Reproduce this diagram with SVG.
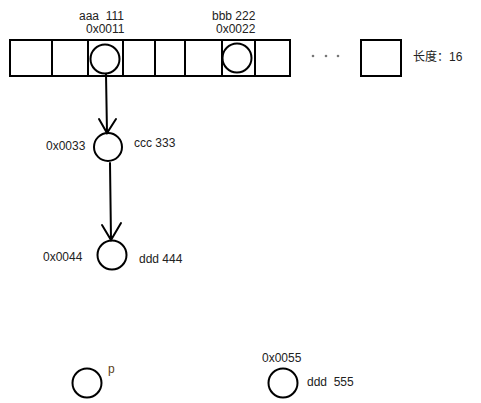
<svg xmlns="http://www.w3.org/2000/svg" width="481" height="403" viewBox="0 0 481 403">
<style>
.s{fill:none;stroke:#000;stroke-width:2;stroke-linecap:round}
.t{font-family:"Liberation Sans","Noto Sans CJK SC",sans-serif;font-size:12px;fill:#222;white-space:pre}
</style>
<rect width="481" height="403" fill="#fff"/>
<g id="array">
<rect class="s" x="10" y="40" width="280" height="36"/>
<path class="s" d="M52 40V76M88 40V76M123 40V76M155 40V76M185 40V76M222 40V76M255 40V76"/>
<circle cx="313" cy="56" r="1.3" fill="#777"/>
<circle cx="326" cy="56" r="1.3" fill="#777"/>
<circle cx="338" cy="56" r="1.3" fill="#777"/>
<rect class="s" x="361" y="40" width="40" height="36"/>
<text class="t" x="413" y="61">长度：16</text>
</g>
<g id="node-aaa">
<circle class="s" cx="105" cy="59" r="14.5"/>
<text class="t" x="79" y="20" xml:space="preserve">aaa  111</text>
<text class="t" x="86" y="33">0x0011</text>
</g>
<g id="node-bbb">
<circle class="s" cx="237" cy="58" r="14.5"/>
<text class="t" x="212" y="20">bbb 222</text>
<text class="t" x="216" y="33">0x0022</text>
</g>
<g id="node-ccc">
<circle class="s" cx="108" cy="147" r="14"/>
<text class="t" x="46" y="150">0x0033</text>
<text class="t" x="134" y="147">ccc 333</text>
</g>
<g id="node-ddd444">
<circle class="s" cx="112" cy="255" r="14.5"/>
<text class="t" x="43" y="261">0x0044</text>
<text class="t" x="139" y="263">ddd 444</text>
</g>
<g id="node-p">
<circle class="s" cx="87" cy="383" r="14.5"/>
<text class="t" x="108" y="373" style="fill:#5a4020">p</text>
</g>
<g id="node-ddd555">
<circle class="s" cx="283" cy="383" r="14.5"/>
<text class="t" x="262" y="362">0x0055</text>
<text class="t" x="307" y="386" xml:space="preserve">ddd  555</text>
</g>
<g id="connectors">
<path class="s" d="M106 74L107 133M99 119L107 133L116 119"/>
<path class="s" d="M110 163L111 240M102 225L111 240L121 223"/>
</g>
</svg>
